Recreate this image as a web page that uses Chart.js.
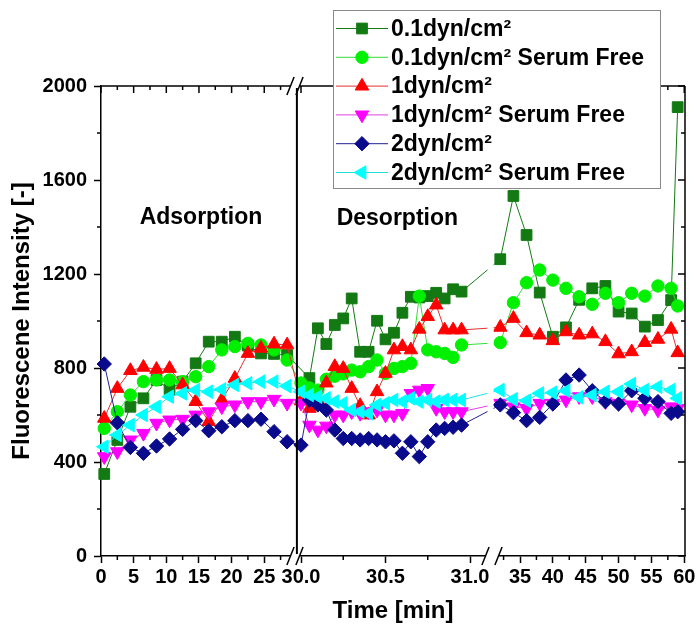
<!DOCTYPE html>
<html><head><meta charset="utf-8">
<script src="https://cdn.jsdelivr.net/npm/chart.js@4.4.0/dist/chart.umd.min.js"></script>
<style>html,body{margin:0;padding:0;background:#fff}canvas{display:block}</style>
</head><body>
<canvas id="c" width="696" height="632"></canvas>
<script>
const FONT = '"Liberation Sans", Arial, Helvetica, sans-serif';

// ---- time points (min) per axis segment ----
const tAdsorption = [0.5, 2.5, 4.5, 6.5, 8.5, 10.5, 12.5, 14.5, 16.5, 18.5, 20.5, 22.5, 24.5, 26.5, 28.5];
const tDesorptionEarly = [30.00, 30.05, 30.10, 30.15, 30.20, 30.25, 30.30, 30.35, 30.40, 30.45, 30.50, 30.55, 30.60, 30.65, 30.70, 30.75, 30.80, 30.85, 30.90, 30.95];
const tDesorptionLate = [32, 34, 36, 38, 40, 42, 44, 46, 48, 50, 52, 54, 56, 58, 59];

// ---- series labels ----
const seriesLabels = ['0.1dyn/cm²', '0.1dyn/cm² Serum Free', '1dyn/cm²', '1dyn/cm² Serum Free', '2dyn/cm²', '2dyn/cm² Serum Free'];

// ---- values (fluorescence intensity) ----
const dyn01Ads  = [349, 494, 635, 671, 749, 709, 742, 820, 912, 912, 933, 895, 862, 860, 855];
const dyn01Des  = [null, 757, 969, 902, 983, 1011, 1096, 869, 869, 1001, 922, 950, 1035, 1103, 1100, 1106, 1120, 1096, 1135, 1125];
const dyn01Late = [1263, 1532, 1366, 1121, 933, 973, 1090, 1139, 1149, 1040, 1032, 976, 1004, 1089, 1910];

const dyn01sfAds  = [543, 614, 685, 742, 749, 749, 742, 763, 806, 877, 891, 905, 898, 877, 834];
const dyn01sfDes  = [736, 715, 706, 752, 765, 775, 791, 784, 806, 834, 777, 798, 806, 820, 1106, 877, 869, 862, 845, 898];
const dyn01sfLate = [908, 1078, 1163, 1217, 1174, 1139, 1103, 1071, 1118, 1078, 1118, 1106, 1149, 1139, 1064];

const dyn1Ads  = [586, 713, 789, 803, 794, 798, 728, 657, 572, 664, 756, 862, 884, 902, 898];
const dyn1Des  = [660, 628, 664, 736, 806, 798, 713, 640, 600, 699, 777, 877, 891, 877, 965, 1019, 1068, 962, 962, 962];
const dyn1Late = [973, 1011, 950, 940, 916, 954, 940, 945, 912, 860, 869, 908, 922, 965, 865];

const dyn1sfAds  = [423, 444, 494, 522, 565, 579, 582, 600, 614, 635, 643, 657, 657, 667, 650];
const dyn1sfDes  = [650, 557, 536, 553, 600, 600, 614, 607, 614, 621, 600, 600, 607, 692, 706, 713, 628, 614, 614, 614];
const dyn1sfLate = [650, 635, 628, 650, 650, 664, 678, 678, 657, 650, 643, 628, 621, 635, 628];

const dyn2Ads  = [817, 567, 462, 437, 468, 498, 539, 576, 533, 550, 576, 576, 582, 529, 486];
const dyn2Des  = [472, 664, 643, 621, 536, 500, 500, 494, 500, 494, 486, 490, 437, 486, 423, 486, 536, 543, 548, 557];
const dyn2Late = [643, 610, 576, 590, 647, 749, 770, 703, 657, 647, 703, 671, 657, 607, 614];

const dyn2sfAds  = [465, 515, 557, 600, 635, 678, 692, 706, 699, 709, 728, 735, 742, 742, 723];
const dyn2sfDes  = [699, 685, 678, 671, 657, 650, 621, 614, 607, 643, 650, 664, 657, 671, 657, 664, 657, 664, 664, 664];
const dyn2sfLate = [706, 667, 661, 692, 695, 703, 675, 685, 699, 699, 732, 706, 720, 706, 671];

// ---- tick labels ----
const xMajorAds = [0, 5, 10, 15, 20, 25];
const xLabelsAds = ['0', '5', '10', '15', '20', '25'];
const xMajorDes = [30.0, 30.5, 31.0];
const xLabelsDes = ['30.0', '30.5', '31.0'];
const xMajorLate = [35, 40, 45, 50, 55, 60];
const xLabelsLate = ['35', '40', '45', '50', '55', '60'];
const xMinorAds = [2.5, 7.5, 12.5, 17.5, 22.5, 27.5];
const xMinorDes = [30.25, 30.75];
const xMinorLate = [32.5, 37.5, 42.5, 47.5, 52.5, 57.5];
const yMajor = [0, 400, 800, 1200, 1600, 2000];
const yLabels = ['0', '400', '800', '1200', '1600', '2000'];
const yMinor = [200, 600, 1000, 1400, 1800];

// ---- broken-axis geometry (axis units) ----
const SEGMENTS = [{t0: 0, d0: 0, k: 6.53}, {t0: 30, d0: 200, k: 169}, {t0: 35, d0: 419, k: 6.57}];
function toAxis(seg, t) { const s = SEGMENTS[seg]; return s.d0 + (t - s.t0) * s.k; }
const BREAKS = [{d: 194, half: 4.5}, {d: 391, half: 6.5}];
const DATA_GAP = [386.5, 392.5];

function build(ads, des, late) {
  return [
    ...tAdsorption.map((t, i) => ({x: toAxis(0, t), y: ads[i]})),
    ...tDesorptionEarly.map((t, i) => ({x: toAxis(1, t), y: des[i]})),
    ...tDesorptionLate.map((t, i) => ({x: toAxis(2, t), y: late[i]}))
  ];
}

const styles = [
  {color: '#137a13', line: '#137a13', shape: 'rect', r: 7.6, rot: 0},
  {color: '#00f000', line: '#33dd33', shape: 'circle', r: 6.2, rot: 0},
  {color: '#ff0000', line: '#e03030', shape: 'triangle', r: 7.8, rot: 0},
  {color: '#ff00ff', line: '#e040e0', shape: 'triangle', r: 7.8, rot: 180},
  {color: '#0a0a8c', line: '#202090', shape: 'rectRot', r: 7.2, rot: 0},
  {color: '#00ffff', line: '#20e0e0', shape: 'triangle', r: 7.8, rot: -90}
];
const seriesData = [
  build(dyn01Ads, dyn01Des, dyn01Late),
  build(dyn01sfAds, dyn01sfDes, dyn01sfLate),
  build(dyn1Ads, dyn1Des, dyn1Late),
  build(dyn1sfAds, dyn1sfDes, dyn1sfLate),
  build(dyn2Ads, dyn2Des, dyn2Late),
  build(dyn2sfAds, dyn2sfDes, dyn2sfLate)
];

const datasets = seriesData.map((d, i) => ({
  label: seriesLabels[i],
  data: d,
  order: 6 - i,
  borderColor: styles[i].line,
  borderWidth: 1,
  backgroundColor: styles[i].color,
  pointStyle: styles[i].shape,
  pointRotation: styles[i].rot,
  pointRadius: styles[i].r,
  pointBorderColor: styles[i].color,
  pointBackgroundColor: styles[i].color,
  pointBorderWidth: 1,
  spanGaps: true,
  tension: 0,
  clip: false
}));

const xTicksAll = [
  ...xMajorAds.map((t, i) => ({value: toAxis(0, t), label: xLabelsAds[i]})),
  ...xMajorDes.map((t, i) => ({value: toAxis(1, t), label: xLabelsDes[i]})),
  ...xMajorLate.map((t, i) => ({value: toAxis(2, t), label: xLabelsLate[i]}))
];
const xMinorAll = [
  ...xMinorAds.map(t => toAxis(0, t)),
  ...xMinorDes.map(t => toAxis(1, t)),
  ...xMinorLate.map(t => toAxis(2, t))
];

function marker(ctx, shape, x, y, r, rot) {
  ctx.beginPath();
  if (shape === 'circle') {
    ctx.arc(x, y, r, 0, Math.PI * 2);
  } else if (shape === 'rect') {
    const s = r * Math.SQRT1_2;
    ctx.rect(x - s, y - s, 2 * s, 2 * s);
  } else if (shape === 'rectRot') {
    ctx.moveTo(x, y - r); ctx.lineTo(x + r, y); ctx.lineTo(x, y + r); ctx.lineTo(x - r, y);
    ctx.closePath();
  } else {
    let a = rot * Math.PI / 180;
    for (let k = 0; k < 3; k++) {
      const px = x + Math.sin(a) * r, py = y - Math.cos(a) * r;
      if (k === 0) ctx.moveTo(px, py); else ctx.lineTo(px, py);
      a += 2 * Math.PI / 3;
    }
    ctx.closePath();
  }
  ctx.fill(); ctx.stroke();
}

const deco = {
  id: 'deco',
  afterDatasetsDraw(chart) {
    const {ctx, chartArea: a, scales: {x}} = chart;
    const g0 = x.getPixelForValue(DATA_GAP[0]), g1 = x.getPixelForValue(DATA_GAP[1]);
    ctx.save();
    ctx.fillStyle = '#fff';
    ctx.fillRect(g0, a.top + 1, g1 - g0, a.bottom - a.top - 2);
    ctx.restore();
  },
  afterDraw(chart) {
    const {ctx, chartArea: a, scales: {x, y}} = chart;
    const ln = (x1, y1, x2, y2) => { ctx.beginPath(); ctx.moveTo(x1, y1); ctx.lineTo(x2, y2); ctx.stroke(); };
    ctx.save();
    ctx.strokeStyle = '#000';
    ctx.lineWidth = 1.5;
    ln(a.left, a.top, a.right, a.top);
    ln(a.right, a.top, a.right, a.bottom);
    const sx = x.getPixelForValue(toAxis(0, 30));
    ctx.lineWidth = 2;
    ln(sx, a.top, sx, a.bottom);
    ctx.lineWidth = 1.5;
    // x ticks
    xMinorAll.forEach(v => { const p = x.getPixelForValue(v); ln(p, a.bottom, p, a.bottom + 4); ln(p, a.top, p, a.top + 4); });
    xTicksAll.forEach(t => { const p = x.getPixelForValue(t.value); ln(p, a.top, p, a.top + 7); });
    // y ticks
    yMinor.forEach(v => { const p = y.getPixelForValue(v); ln(a.left - 4, p, a.left, p); ln(a.right - 4, p, a.right, p); });
    yMajor.forEach(v => { const p = y.getPixelForValue(v); ln(a.right - 7, p, a.right, p); });
    // axis breaks
    BREAKS.forEach((b, i) => {
      const c = x.getPixelForValue(b.d);
      const ys = i === 0 ? [a.bottom, a.top] : [a.bottom];
      ys.forEach(cy => {
        ctx.fillStyle = '#fff';
        ctx.fillRect(c - b.half, cy - 2, 2 * b.half, 4);
        [c - b.half, c + b.half].forEach(cx => ln(cx - 3.6, cy + 9, cx + 3.6, cy - 9));
      });
    });
    // phase annotations
    ctx.fillStyle = '#000';
    ctx.font = 'bold 23px ' + FONT;
    ctx.textAlign = 'center';
    ctx.textBaseline = 'middle';
    ctx.fillText('Adsorption', (a.left + sx) / 2 + 2, 218);
    ctx.fillText('Desorption', x.getPixelForValue(toAxis(1, 30.57)), 219);
    // legend
    const L = {x: 333, y: 10, w: 327, h: 178};
    ctx.fillStyle = '#fff';
    ctx.fillRect(L.x, L.y, L.w, L.h);
    ctx.strokeStyle = '#888';
    ctx.lineWidth = 1;
    ctx.strokeRect(L.x + 0.5, L.y + 0.5, L.w, L.h);
    ctx.textAlign = 'left';
    seriesLabels.forEach((lab, i) => {
      const ry = 28.5 + i * 28.8;
      ctx.strokeStyle = styles[i].line; ctx.lineWidth = 1;
      ln(336, ry, 388, ry);
      ctx.fillStyle = styles[i].color; ctx.strokeStyle = styles[i].color;
      marker(ctx, styles[i].shape, 362, ry, styles[i].r, styles[i].rot);
      ctx.fillStyle = '#000';
      ctx.fillText(lab, 391, ry + 1);
    });
    ctx.restore();
  }
};

new Chart(document.getElementById('c'), {
  type: 'line',
  data: {datasets},
  options: {
    responsive: false,
    animation: false,
    devicePixelRatio: 1,
    layout: {padding: {top: 86, right: 11, left: 0, bottom: 0}},
    plugins: {legend: {display: false}, tooltip: {enabled: false}},
    scales: {
      x: {
        type: 'linear', min: 0, max: 584,
        afterBuildTicks: s => { s.ticks = xTicksAll.map(t => ({value: t.value})); },
        afterFit: s => { s.height = 76; s.paddingLeft = 0; s.paddingRight = 0; },
        ticks: {autoSkip: false, maxRotation: 0, minRotation: 0, padding: 2, color: '#000',
          font: {family: FONT, size: 20, weight: 'bold'},
          callback: (v, i) => xTicksAll[i] ? xTicksAll[i].label : ''},
        grid: {drawOnChartArea: false, tickLength: 7, tickColor: '#000', tickWidth: 1.5, color: '#000'},
        border: {color: '#000', width: 1.5},
        title: {display: true, text: 'Time [min]', color: '#000', padding: {top: 0, bottom: 6},
          font: {family: FONT, size: 24, weight: 'bold'}}
      },
      y: {
        min: 0, max: 2000,
        afterBuildTicks: s => { s.ticks = yMajor.map(v => ({value: v})); },
        afterFit: s => { s.width = 101; s.paddingTop = 0; s.paddingBottom = 0; },
        ticks: {padding: 7, color: '#000', font: {family: FONT, size: 20, weight: 'bold'},
          callback: (v, i) => yLabels[i]},
        grid: {drawOnChartArea: false, tickLength: 7, tickColor: '#000', tickWidth: 1.5, color: '#000'},
        border: {color: '#000', width: 1.5},
        title: {display: true, text: 'Fluorescene Intensity [-]', color: '#000', padding: {top: 8, bottom: 0},
          font: {family: FONT, size: 24, weight: 'bold'}}
      }
    }
  },
  plugins: [deco]
});
</script>
</body></html>
